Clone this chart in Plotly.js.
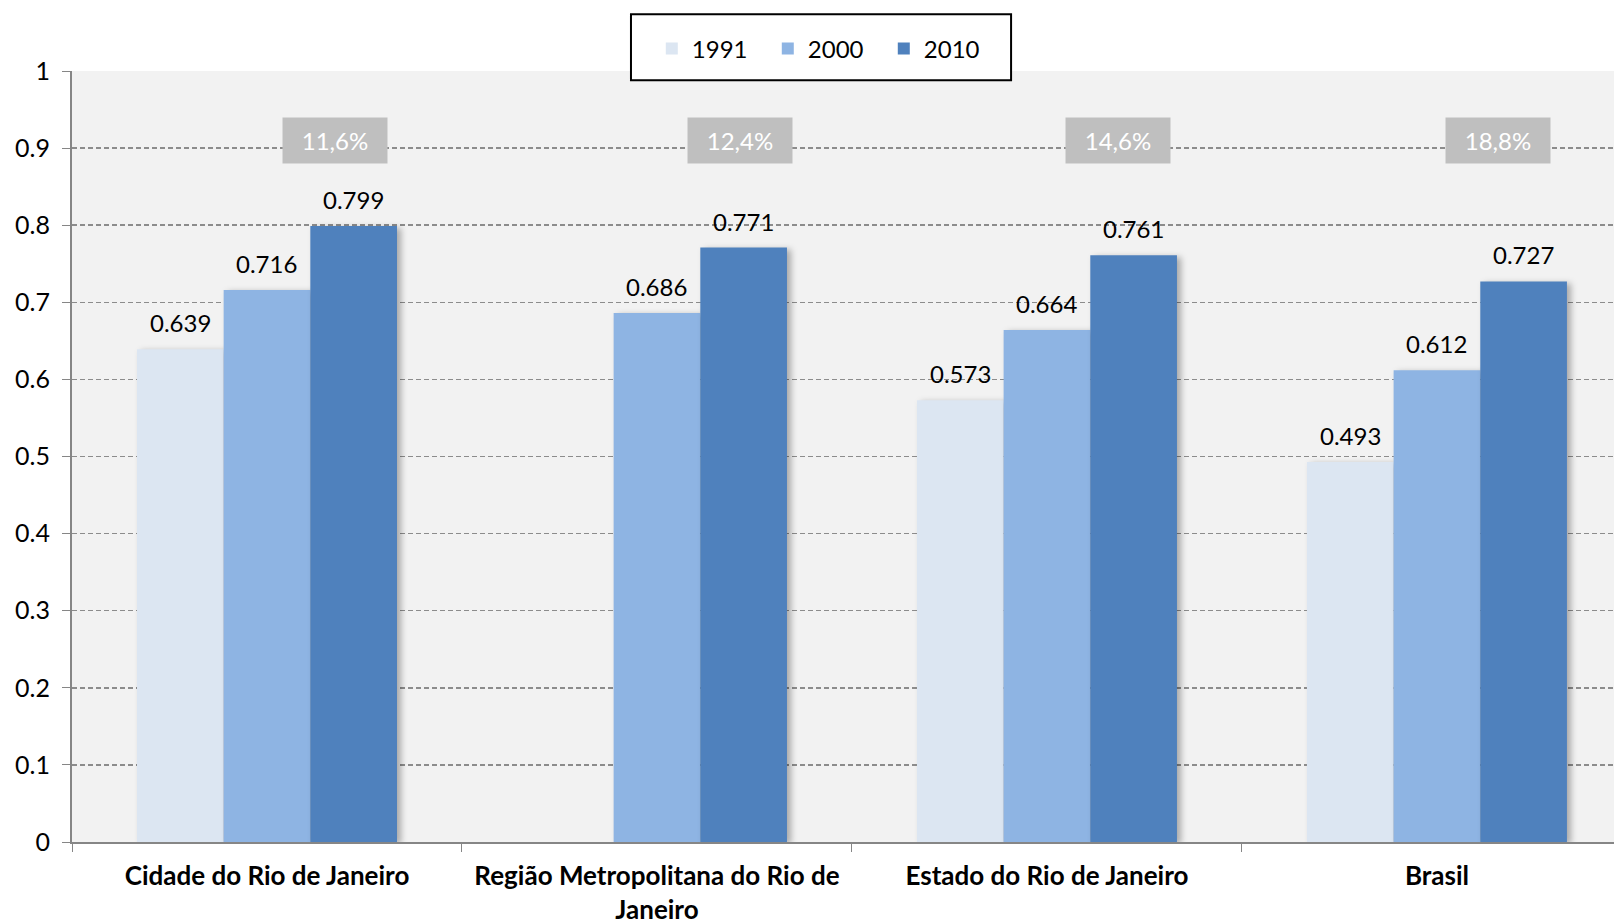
<!DOCTYPE html>
<html>
<head>
<meta charset="utf-8">
<script src="https://cdn.plot.ly/plotly-3.0.1.min.js"></script>
<style>
  html, body { margin: 0; padding: 0; background: #ffffff; }
  #chart { width: 1614px; height: 924px; }
  .barlayer .point path { filter: drop-shadow(4px 2px 3px rgba(0,0,0,0.3)); }
</style>
</head>
<body>
<div id="chart"></div>
<script>
// ---- data ----
const categories = ['Cidade do Rio de Janeiro', 'Região Metropolitana do Rio de Janeiro', 'Estado do Rio de Janeiro', 'Brasil'];
const tickLabels = ['Cidade do Rio de Janeiro', 'Região Metropolitana do Rio de<br>Janeiro', 'Estado do Rio de Janeiro', 'Brasil'];
const seriesNames = ['1991', '2000', '2010'];
const values1991 = [0.639, null, 0.573, 0.493];
const values2000 = [0.716, 0.686, 0.664, 0.612];
const values2010 = [0.799, 0.771, 0.761, 0.727];
const growthLabels = ['11,6%', '12,4%', '14,6%', '18,8%'];

// ---- styling ----
const FONT = 'Lato, "Open Sans", sans-serif';
const colors = ['#DCE6F2', '#8EB4E3', '#4F81BD'];
const allValues = [values1991, values2000, values2010];
const BARGAP = 1/3;
const barW = (1 - BARGAP) / allValues.length;

const traces = allValues.map((vals, i) => ({
  type: 'bar',
  name: seriesNames[i],
  x: categories,
  y: vals,
  marker: { color: colors[i], line: { width: 0 } },
  hoverinfo: 'x+y+name'
}));

// value labels, placed through the axes at each bar's top
const valueLabels = [];
allValues.forEach((vals, i) => {
  vals.forEach((v, j) => {
    if (v == null) return;
    valueLabels.push({
      x: j + (i - (allValues.length - 1) / 2) * barW,
      y: v,
      xref: 'x', yref: 'y',
      text: v.toFixed(3),
      showarrow: false,
      xanchor: 'center', yanchor: 'bottom',
      yshift: 10,
      font: { family: FONT, size: 24, color: '#000000' }
    });
  });
});

const boxOffsets = [0.174, 0.213, 0.182, 0.156];
const growthBoxes = growthLabels.map((t, i) => ({
  x: i + boxOffsets[i],
  y: 0.9095,
  xref: 'x', yref: 'y',
  text: t,
  showarrow: false,
  bgcolor: '#BFBFBF',
  borderpad: 0,
  width: 104,
  height: 45,
  font: { family: FONT, size: 24, color: '#FFFFFF' },
  xanchor: 'center', yanchor: 'middle'
}));

const layout = {
  width: 1614,
  height: 924,
  margin: { l: 72, r: 0, t: 71, b: 82 },
  paper_bgcolor: '#FFFFFF',
  plot_bgcolor: '#F2F2F2',
  font: { family: FONT, size: 24, color: '#000000' },
  barmode: 'group',
  bargap: BARGAP,
  bargroupgap: 0,
  showlegend: true,
  legend: {
    orientation: 'h',
    x: 0.376, xanchor: 'left',
    y: 1.058, yanchor: 'top',
    bgcolor: 'rgba(0,0,0,0)',
    borderwidth: 0,
    font: { family: FONT, size: 24, color: '#000000' },
    entrywidth: 71,
    entrywidthmode: 'pixels',
    itemwidth: 30
  },
  shapes: [{
    type: 'rect', xref: 'paper', yref: 'paper',
    x0: 0.3625, x1: 0.609, y0: 0.988, y1: 1.0735,
    fillcolor: '#FFFFFF',
    line: { color: '#000000', width: 2 },
    layer: 'above'
  }],
  xaxis: {
    type: 'category',
    categoryarray: categories,
    tickvals: categories,
    ticktext: tickLabels,
    range: [-0.5, 3.454],
    tickson: 'boundaries',
    ticks: 'outside',
    ticklen: 8,
    tickwidth: 1,
    tickcolor: '#868686',
    showline: true,
    linecolor: '#868686',
    linewidth: 2,
    showgrid: false,
    zeroline: false,
    tickfont: { family: FONT, size: 26, color: '#000000', weight: 'bold' },
    ticklabelstandoff: 10,
    fixedrange: true
  },
  yaxis: {
    range: [0, 1],
    dtick: 0.1,
    tick0: 0,
    ticks: 'outside',
    ticklen: 8,
    tickwidth: 1,
    tickcolor: '#868686',
    showline: true,
    linecolor: '#868686',
    linewidth: 2,
    showgrid: true,
    gridcolor: '#8C8C8C',
    griddash: '5px,3px',
    gridwidth: 1.5,
    zeroline: false,
    tickfont: { family: FONT, size: 25, color: '#000000' },
    ticklabelstandoff: 7,
    fixedrange: true
  },
  annotations: growthBoxes.concat(valueLabels)
};

Plotly.newPlot('chart', traces, layout, { displayModeBar: false, staticPlot: true });
</script>
</body>
</html>
